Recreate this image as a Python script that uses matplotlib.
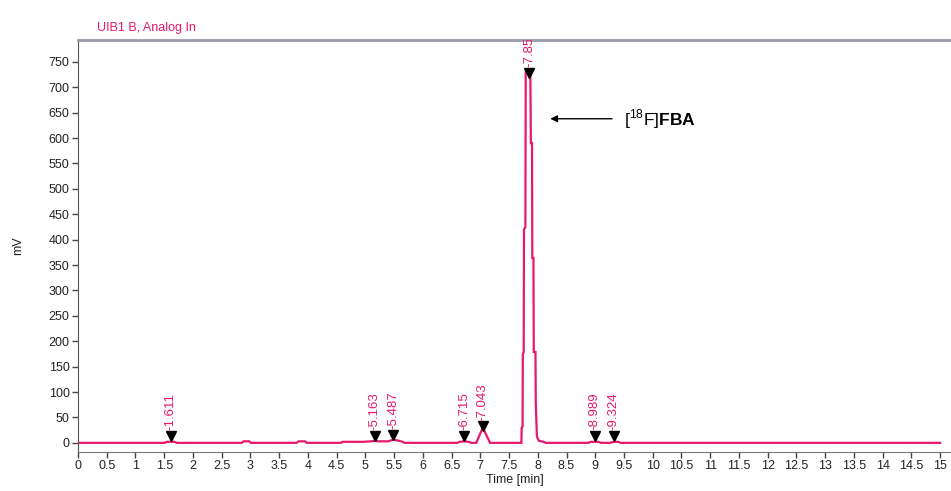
import matplotlib
matplotlib.use("Agg")
import matplotlib.pyplot as plt
import numpy as np

plt.rcParams['font.family'] = ['Liberation Sans', 'DejaVu Sans']
plt.rcParams['mathtext.fontset'] = 'custom'
plt.rcParams['mathtext.rm'] = 'Liberation Sans'
plt.rcParams['mathtext.bf'] = 'Liberation Sans:bold'

# chromatogram trace (time in min, signal in mV)
time_min = [0.0, 1.50, 1.55, 1.68, 1.72, 2.85, 2.88, 2.98, 3.01, 3.80, 3.84, 3.95, 3.98,
            4.58, 4.60, 4.92, 4.95, 5.10, 5.163, 5.22, 5.40, 5.45, 5.487, 5.55, 5.65, 5.68,
            6.60, 6.64, 6.715, 6.80, 6.84, 6.93, 7.043, 7.17, 7.70, 7.715, 7.72, 7.735,
            7.74, 7.755, 7.76, 7.785, 7.79, 7.855, 7.87, 7.88, 7.90, 7.905, 7.925, 7.93,
            7.96, 7.965, 7.985, 8.02, 8.10, 8.14, 8.88, 8.92, 8.989, 9.06, 9.10, 9.25,
            9.324, 9.40, 9.44, 15.0]
signal_mv = [0, 0, 2, 2, 0, 0, 3, 3, 0, 0, 3, 3, 0,
             0, 2, 2, 2, 3, 4, 3, 3, 5, 6, 5, 2, 0,
             0, 2, 3, 2, 0, 0, 30, 0, 0, 0, 30, 32,
             175, 178, 420, 425, 730, 735, 735, 590, 590, 364, 364, 179,
             179, 79, 12, 4, 2, 0, 0, 2, 2, 2, 0, 0,
             2, 2, 0, 0]

# integration marks
peak_times = [1.611, 5.163, 5.487, 6.715, 7.043, 7.855, 8.989, 9.324]
peak_marker_mv = [14, 14, 16, 14, 33, 728, 14, 14]
peak_labels = ["-1.611", "-5.163", "-5.487", "-6.715", "-7.043", "-7.855", "-8.989", "-9.324"]

y_ticks = list(range(0, 751, 50))
x_ticks = [i * 0.5 for i in range(31)]
x_ticklabels = ["0", "0.5", "1", "1.5", "2", "2.5", "3", "3.5", "4", "4.5", "5", "5.5",
                "6", "6.5", "7", "7.5", "8", "8.5", "9", "9.5", "10", "10.5", "11", "11.5",
                "12", "12.5", "13", "13.5", "14", "14.5", "15"]

pink = '#e8186e'
W, H = 951, 491
fig = plt.figure(figsize=(W / 100, H / 100), dpi=100)
ax = fig.add_axes([78 / W, 1 - 452 / H, (W - 78) / W, (452 - 40) / H])

ax.plot(time_min, signal_mv, color=pink, lw=1.6, solid_joinstyle='miter', zorder=2)
ax.plot(peak_times, peak_marker_mv, linestyle='none', marker='v', color='black',
        markersize=7, zorder=3)
for t, m, lab in zip(peak_times, peak_marker_mv, peak_labels):
    ax.annotate(lab, xy=(t, m), xytext=(0, 4), textcoords='offset points',
                rotation=90, ha='center', va='bottom', color=pink, fontsize=9.5,
                annotation_clip=False, clip_on=True, zorder=4)

ax.set_xlim(0, 15.19)
ax.set_ylim(-18, 793)
ax.set_xticks(x_ticks)
ax.set_xticklabels(x_ticklabels)
ax.set_yticks(y_ticks)
ax.tick_params(axis='both', direction='out', length=4, width=1, colors='#444444',
               labelsize=9, labelcolor='#222222', pad=2)

for s in ['right']:
    ax.spines[s].set_visible(False)
ax.spines['left'].set_color('#555555')
ax.spines['bottom'].set_color('#777777')
ax.spines['top'].set_color('#9a9aa8')
ax.spines['top'].set_linewidth(2)

ax.set_xlabel('Time [min]', fontsize=9, color='#222222', labelpad=1)
ax.set_ylabel('mV', fontsize=9, color='#222222', labelpad=18)

fig.text(97 / W, 1 - 28 / H, 'UIB1 B, Analog In', color=pink, fontsize=9,
         ha='left', va='center')

# annotation arrow for main product
ax.annotate('', xy=(8.17, 638), xytext=(9.34, 638),
            arrowprops=dict(arrowstyle='-|>', color='black', lw=1, mutation_scale=10))
ax.text(9.5, 638, r'[$^{\mathregular{18}}$F]$\mathbf{FBA}$', fontsize=12.5,
        ha='left', va='center', color='black')

fig.savefig('out.png', dpi=100, facecolor='white')
